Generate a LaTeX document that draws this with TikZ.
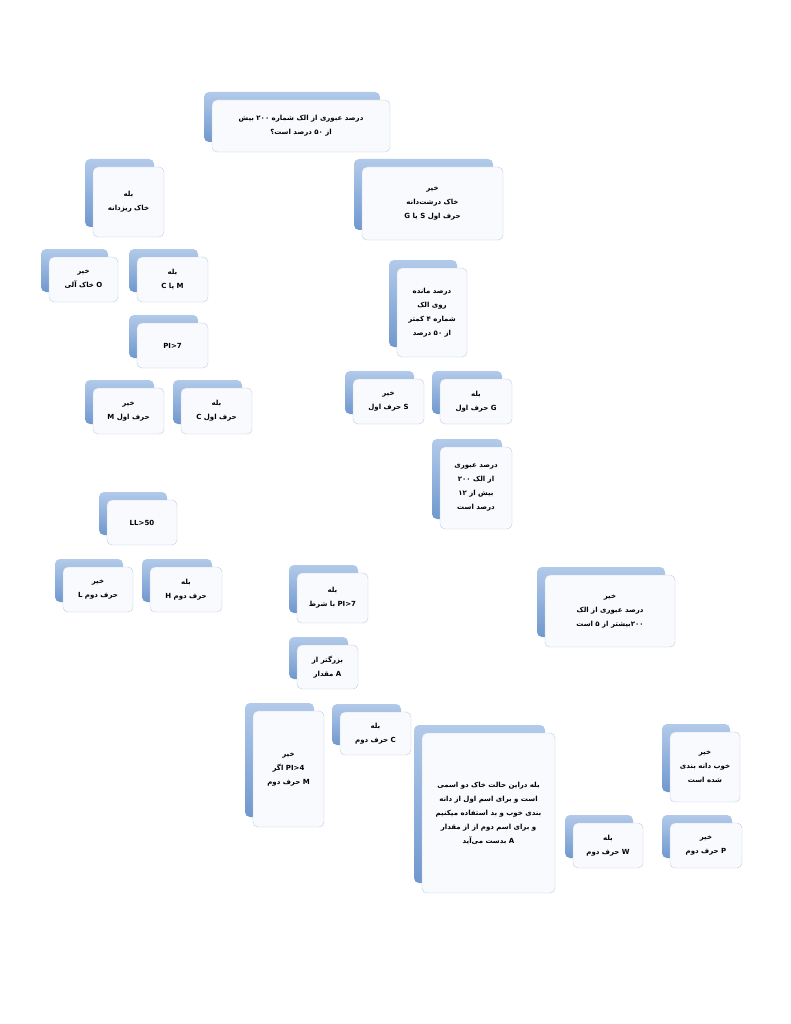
\documentclass[tikz,border=0pt]{standalone}
\usepackage{fontspec}
\usetikzlibrary{backgrounds}
\TeXXeTstate=1
\newfontfamily\arabicfont[Script=Arabic]{DejaVu Sans}
\newcommand{\rl}[1]{\beginR #1\endR}
\newcommand{\lat}[1]{\beginL #1\endL{}}
\definecolor{linecol}{RGB}{84,130,190}
\definecolor{cardtop}{RGB}{178,202,234}
\definecolor{cardbot}{RGB}{112,152,206}
\definecolor{cardfront}{RGB}{248,250,253}
\definecolor{cardedge}{RGB}{192,206,226}
\tikzset{
  cardback/.style={top color=cardtop, bottom color=cardbot, rounded corners=5pt},
  cardbox/.style={draw=cardedge, fill=cardfront, rounded corners=5pt, inner sep=0pt,
    align=center, font=\arabicfont\bfseries\fontsize{7}{14}\selectfont},
  link/.style={draw=linecol, line width=1pt}
}
% card: name, x1, y1, x2, y2, text
\newcommand{\card}[6]{%
  \path[cardback] (#2-8,#3-8) rectangle (#4-10,#5-10);
  \node[cardbox, minimum width={(#4-#2)*1pt}, minimum height={(#5-#3)*1pt}]
    (#1) at ({(#2+#4)/2},{(#3+#5)/2}) {#6};
}
% elbow: parent, child, bus height
\newcommand{\elbow}[3]{%
  \draw[link] (#1.south) -- (#1.south |- 0,#3) -| (#2.north);
}
\begin{document}
\begin{tikzpicture}[x=1pt, y=-1pt]
\useasboundingbox[fill=white] (0,0) rectangle (791,1024);

% left branch
\card{root}{212}{100}{390}{152}{\rl{درصد عبوری از الک شماره \lat{۲۰۰} بیش}\\\rl{از \lat{۵۰} درصد است؟}}
\card{fine}{93}{167}{164}{237}{\rl{بله}\\\rl{خاک ریزدانه}}
\card{organic}{49}{257}{118}{302}{\rl{خیر}\\\rl{\lat{O} خاک آلی}}
\card{siltclay}{137}{257}{208}{302}{\rl{بله}\\\rl{\lat{M} یا \lat{C}}}
\card{pisev}{137}{323}{208}{368}{\rl{\lat{PI>7}}}
\card{firstm}{93}{388}{164}{434}{\rl{خیر}\\\rl{حرف اول \lat{M}}}
\card{firstc}{181}{388}{252}{434}{\rl{بله}\\\rl{حرف اول \lat{C}}}
\card{llfifty}{107}{500}{177}{545}{\lat{LL>50}}
\card{secondl}{63}{567}{133}{612}{\rl{خیر}\\\rl{حرف دوم \lat{L}}}
\card{secondh}{150}{567}{222}{612}{\rl{بله}\\\rl{حرف دوم \lat{H}}}

% right branch
\card{coarse}{362}{167}{503}{240}{\rl{خیر}\\\rl{خاک درشت‌دانه}\\\rl{حرف اول \lat{S} یا \lat{G}}}
\card{retained}{397}{268}{467}{357}{\rl{درصد مانده}\\\rl{روی الک}\\\rl{شماره ۴ کمتر}\\\rl{از \lat{۵۰} درصد}}
\card{firsts}{353}{379}{424}{424}{\rl{خیر}\\\rl{\lat{S} حرف اول}}
\card{firstg}{440}{379}{512}{424}{\rl{بله}\\\rl{\lat{G} حرف اول}}
\card{passtwelve}{440}{447}{512}{529}{\rl{درصد عبوری}\\\rl{از الک \lat{۲۰۰}}\\\rl{بیش از \lat{۱۲}}\\\rl{درصد است}}
\card{picond}{297}{573}{368}{623}{\rl{بله}\\\rl{\lat{PI>7} با شرط}}
\card{alinegt}{297}{645}{358}{689}{\rl{بزرگتر از}\\\rl{\lat{A} مقدار}}
\card{secondm}{253}{711}{324}{827}{\rl{خیر}\\\rl{\lat{PI>4} اگر}\\\rl{\lat{M} حرف دوم}}
\card{secondc}{340}{712}{411}{755}{\rl{بله}\\\rl{\lat{C} حرف دوم}}
\card{passfive}{545}{575}{675}{647}{\rl{خیر}\\\rl{درصد عبوری از الک}\\\rl{\lat{۲۰۰}بیشتر از ۵ است}}
\card{dualname}{422}{733}{555}{893}{\rl{بله دراین حالت خاک دو اسمی}\\\rl{است و برای اسم اول از دانه}\\\rl{بندی خوب و بد استفاده میکنیم}\\\rl{و برای اسم دوم از از مقدار}\\\rl{\lat{A} بدست می‌آید}}
\card{graded}{670}{732}{740}{802}{\rl{خیر}\\\rl{خوب دانه بندی}\\\rl{شده است}}
\card{secondw}{573}{823}{643}{868}{\rl{بله}\\\rl{\lat{W} حرف دوم}}
\card{secondp}{670}{823}{742}{868}{\rl{خیر}\\\rl{\lat{P} حرف دوم}}

% connectors
\begin{scope}[on background layer]
  \elbow{root}{fine}{152}
  \elbow{root}{coarse}{152}
  \elbow{fine}{organic}{243}
  \elbow{fine}{siltclay}{243}
  \elbow{siltclay}{pisev}{312}
  \elbow{pisev}{firstm}{373}
  \elbow{pisev}{firstc}{373}
  \elbow{firstc}{llfifty}{485}
  \elbow{llfifty}{secondl}{552}
  \elbow{llfifty}{secondh}{552}
  \elbow{coarse}{retained}{250}
  \elbow{retained}{firsts}{364}
  \elbow{retained}{firstg}{364}
  \elbow{firstg}{passtwelve}{435}
  \elbow{passtwelve}{picond}{559}
  \elbow{passtwelve}{passfive}{559}
  \elbow{picond}{alinegt}{630}
  \elbow{alinegt}{secondm}{694}
  \elbow{alinegt}{secondc}{694}
  \elbow{passfive}{dualname}{716}
  \elbow{passfive}{graded}{716}
  \elbow{graded}{secondw}{807}
  \elbow{graded}{secondp}{807}
\end{scope}
\end{tikzpicture}
\end{document}
